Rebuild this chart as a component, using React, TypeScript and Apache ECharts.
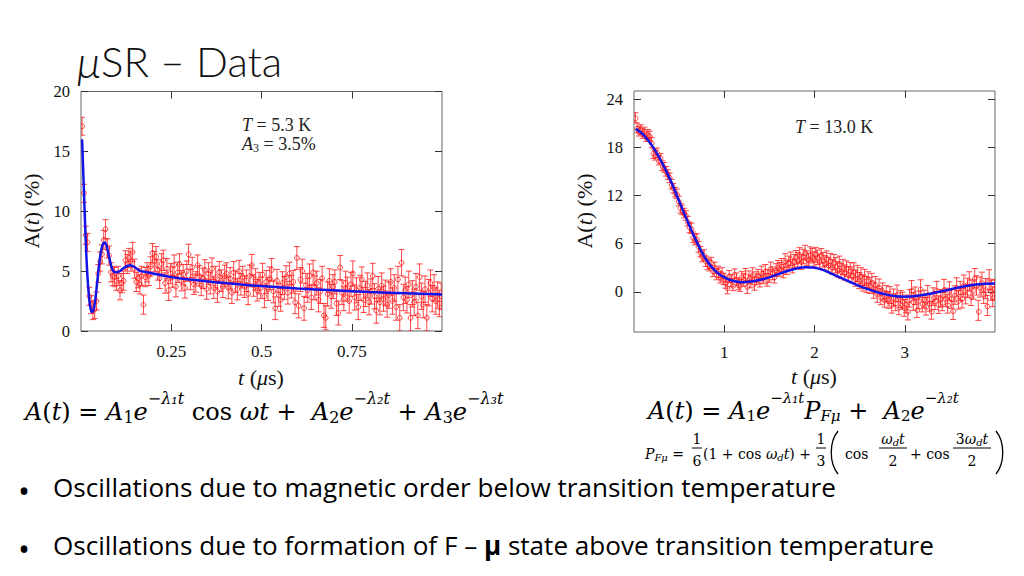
import React, { useEffect, useRef } from "react";
import * as echarts from "echarts";

// ---------------- Left panel data (T = 5.3 K) ----------------
const LEFT_T0 = 0.003;
const LEFT_DT = 0.005;
const leftY = [
  17.1, 11.5, 8.0, 7.4, 2.9, 2.2, 1.7, 1.8, 2.5, 4.8,
  5.8, 6.4, 7.6, 8.5, 6.9, 6.3, 4.9, 4.6, 4.5, 4.2,
  4.6, 3.4, 4.0, 4.2, 5.9, 5.6, 6.1, 5.8, 6.6, 5.2,
  4.1, 4.4, 3.9, 4.6, 2.2, 4.5, 4.9, 4.6, 5.4, 6.5,
  5.8, 6.2, 5.1, 4.4, 5.6, 5.9, 4.0, 5.2, 3.4, 4.8,
  4.5, 5.5, 3.7, 4.9, 5.6, 4.2, 4.7, 3.6, 5.0, 6.4,
  4.3, 5.3, 3.9, 4.1, 5.5, 4.6, 3.8, 4.4, 5.1, 3.5,
  4.8, 4.0, 5.2, 3.6, 4.5, 3.3, 4.9, 4.2, 3.7, 4.6,
  4.8, 3.6, 4.4, 3.2, 4.9, 4.1, 3.5, 5.0, 3.9, 4.5,
  3.7, 4.2, 3.1, 4.6, 5.5, 3.8, 4.3, 3.4, 4.0, 3.6,
  4.7, 2.9, 4.1, 3.5, 4.4, 5.1, 3.3, 1.9, 4.2, 3.0,
  2.6, 4.0, 3.6, 4.5, 3.2, 4.8, 3.7, 4.1, 2.4, 6.1,
  2.1, 4.3, 5.0, 1.9, 3.8, 3.4, 4.6, 2.8, 4.9, 3.6,
  4.0, 2.6, 3.3, 4.4, 1.3, 1.1, 3.1, 4.2, 2.9, 3.7,
  4.1, 2.3, 1.5, 5.3, 3.2, 2.7, 4.0, 3.5, 2.5, 3.9,
  4.8, 2.8, 3.4, 2.0, 3.6, 4.3, 2.6, 3.1, 3.8, 2.4,
  3.3, 4.6, 2.9, 1.7, 3.5, 2.4, 3.8, 2.7, 3.2, 2.2,
  3.0, 4.1, 2.5, 3.6, 2.0, 4.3, 1.1, 5.7, 2.8, 3.4,
  2.6, 3.9, 1.1, 3.1, 2.4, 3.7, 1.3, 4.5, 2.9, 2.2,
  3.5, 1.1, 3.2, 4.0, 2.7, 3.6, 2.5, 3.0, 2.3, 2.9,
];
// error bar half-length per block of 10 points
const leftErr = [0.75, 0.8, 0.8, 0.8, 0.85, 0.85, 0.85, 0.9, 0.9, 0.9, 0.95, 0.95, 1.0, 1.0, 1.0, 1.05, 1.05, 1.1, 1.1, 1.1];
const leftFitT = [0.003, 0.008, 0.013, 0.018, 0.023, 0.027, 0.031, 0.035, 0.04, 0.045, 0.05, 0.055, 0.06, 0.065, 0.07, 0.075, 0.08, 0.085, 0.09, 0.095, 0.1, 0.105, 0.11, 0.12, 0.13, 0.136, 0.145, 0.155, 0.165, 0.176, 0.2, 0.25, 0.3, 0.4, 0.5, 0.6, 0.7, 0.8, 0.9, 1.0];
const leftFitY = [16.0, 11.8, 7.6, 4.5, 2.6, 1.8, 1.6, 1.8, 2.7, 4.1, 5.5, 6.6, 7.2, 7.4, 7.2, 6.6, 5.9, 5.3, 5.0, 4.9, 4.9, 4.95, 5.05, 5.3, 5.45, 5.5, 5.4, 5.2, 5.0, 4.95, 4.8, 4.5, 4.3, 4.0, 3.75, 3.55, 3.4, 3.25, 3.15, 3.05];
const leftXTicks = [0.25, 0.5, 0.75];
const leftYTicks = [0, 5, 10, 15, 20];

// ---------------- Right panel data (T = 13.0 K) ----------------
const RIGHT_T0 = 0.015;
const RIGHT_DT = 0.02;
const rightY = [
  21.7, 20.4, 20.0, 20.2, 19.7, 19.9, 19.3, 19.6, 19.4, 18.6,
  17.2, 17.0, 17.3, 16.4, 16.6, 15.7, 15.5, 15.0, 14.6, 14.2,
  13.4, 12.9, 12.4, 12.2, 11.3, 10.4, 10.2, 9.8, 9.5, 8.8,
  8.0, 7.9, 6.8, 6.5, 6.6, 5.6, 5.0, 4.4, 4.6, 3.8,
  3.5, 3.3, 3.6, 2.6, 3.0, 2.2, 2.5, 1.8, 2.3, 1.6,
  1.2, 0.5, 1.9, 1.4, 0.9, 2.1, 1.6, 1.0, 0.8, 1.8,
  1.5, 2.1, 0.6, 1.8, 1.3, 2.2, 1.0, 1.7, 2.0, 1.4,
  2.4, 1.8, 2.6, 1.5, 2.0, 2.9, 2.3, 1.9, 2.7, 3.1,
  2.8, 3.3, 2.6, 3.9, 3.0, 3.6, 4.1, 3.2, 3.8, 4.3,
  4.0, 4.6, 3.7, 4.4, 4.9, 4.2, 3.9, 4.7, 4.5, 4.1,
  4.6, 4.3, 3.8, 4.5, 4.0, 3.6, 4.2, 3.4, 3.9, 3.1,
  3.7, 3.3, 2.8, 3.5, 2.6, 3.1, 2.4, 2.9, 2.2, 2.7,
  2.1, 2.6, 1.7, 2.3, 1.4, 2.0, 1.1, 1.8, 0.9, 1.5,
  0.8, 1.3, 0.2, 0.9, -0.3, 0.6, -0.6, 0.1, -0.9, -0.2,
  -1.0, -0.4, -1.6, -0.7, -1.3, -0.2, -1.8, -0.9, -1.1, -2.0,
  -1.5, -2.4, -0.8, 0.3, -1.2, -0.5, -2.1, -1.0, 0.4, -1.4,
  -0.9, -1.8, -0.3, -1.3, -2.3, -0.6, -1.1, 0.2, -1.6, -0.8,
  -1.2, 0.4, -0.7, -1.5, 0.1, -0.9, -2.3, -0.4, 0.6, -1.0,
  0.1, -0.8, 0.9, -0.3, 0.5, 1.3, -0.5, 0.3, 1.7, 0.8,
  -2.3, 0.6, 1.2, -0.2, 0.4, -1.7, 1.5, 0.2, -0.6, 0.3,
];
const rightErr = [0.6, 0.6, 0.6, 0.65, 0.7, 0.75, 0.8, 0.8, 0.85, 0.9, 0.9, 0.95, 1.0, 1.0, 1.05, 1.1, 1.1, 1.15, 1.2, 1.25];
const rightFitT = [0.02, 0.1, 0.2, 0.3, 0.4, 0.5, 0.6, 0.7, 0.8, 0.9, 1.0, 1.1, 1.2, 1.3, 1.4, 1.5, 1.6, 1.7, 1.8, 1.9, 2.0, 2.1, 2.2, 2.3, 2.4, 2.5, 2.6, 2.7, 2.8, 2.9, 3.0, 3.1, 3.2, 3.3, 3.4, 3.5, 3.6, 3.7, 3.8, 3.9, 4.0];
const rightFitY = [20.3, 19.6, 18.2, 16.3, 14.0, 11.3, 8.6, 6.1, 4.0, 2.6, 1.8, 1.35, 1.2, 1.3, 1.5, 1.8, 2.2, 2.6, 2.9, 3.05, 3.0, 2.7, 2.2, 1.7, 1.2, 0.7, 0.3, -0.05, -0.35, -0.55, -0.6, -0.55, -0.4, -0.2, 0.05, 0.3, 0.55, 0.75, 0.9, 1.0, 1.05];
const rightXTicks = [1, 2, 3];
const rightYTicks = [0, 6, 12, 18, 24];

const SERIF = "'Liberation Serif', 'Times New Roman', serif";
const MATH = "'DejaVu Serif', 'Liberation Serif', serif";
const SANS = "Lato, 'Open Sans', sans-serif";
const BODY = "'Open Sans', 'Noto Sans', sans-serif";
const PT_COLOR = "rgba(255,25,25,0.8)";
const FIT_COLOR = "#1414e6";

function errRender(params: any, api: any) {
  const x = api.value(0);
  const y = api.value(1);
  const e = api.value(2);
  const p = api.coord([x, y]);
  const hi = api.coord([x, y + e]);
  const lo = api.coord([x, y - e]);
  const w = 3;
  const st = { stroke: PT_COLOR, lineWidth: 1, fill: "none" };
  return {
    type: "group",
    children: [
      { type: "line", shape: { x1: p[0], y1: hi[1], x2: p[0], y2: lo[1] }, style: st },
      { type: "line", shape: { x1: p[0] - w, y1: hi[1], x2: p[0] + w, y2: hi[1] }, style: st },
      { type: "line", shape: { x1: p[0] - w, y1: lo[1], x2: p[0] + w, y2: lo[1] }, style: st },
      { type: "circle", shape: { cx: p[0], cy: p[1], r: 2.4 }, style: st },
    ],
  };
}

function xAxes(gridIndex: number, min: number, max: number, ticks: number[]) {
  const base = {
    type: "value",
    gridIndex,
    min,
    max,
    axisLine: { show: false, onZero: false },
    splitLine: { show: false },
    axisTick: { show: true, inside: true, length: 7, customValues: ticks, lineStyle: { color: "#333", width: 1 } },
  };
  return [
    {
      ...base,
      position: "bottom",
      axisLabel: { show: true, customValues: ticks, margin: 12, color: "#111", fontFamily: SERIF, fontSize: 17, formatter: (v: number) => String(v) },
    },
    { ...base, position: "top", axisLabel: { show: false } },
  ];
}

function yAxes(gridIndex: number, min: number, max: number, ticks: number[]) {
  const base = {
    type: "value",
    gridIndex,
    min,
    max,
    axisLine: { show: false, onZero: false },
    splitLine: { show: false },
    axisTick: { show: true, inside: true, length: 7, customValues: ticks, lineStyle: { color: "#333", width: 1 } },
  };
  return [
    {
      ...base,
      position: "left",
      axisLabel: { show: true, customValues: ticks, margin: 11, color: "#111", fontFamily: SERIF, fontSize: 16.5, formatter: (v: number) => String(v) },
    },
    { ...base, position: "right", axisLabel: { show: false } },
  ];
}

// rich styles for formulas: sub/superscripts are shifted with padding around a centred token
const mathRich = (size: number, subSize: number, subShift: number, supShift: number) => ({
  n: { fontFamily: MATH, fontSize: size, fill: "#000", verticalAlign: "middle" },
  i: { fontFamily: MATH, fontSize: size, fontStyle: "italic", fill: "#000", verticalAlign: "middle" },
  sb: { fontFamily: MATH, fontSize: subSize, fill: "#000", verticalAlign: "middle", padding: [subShift * 2, 0, 0, 0] },
  sbi: { fontFamily: MATH, fontSize: subSize, fontStyle: "italic", fill: "#000", verticalAlign: "middle", padding: [subShift * 2, 0, 0, 0] },
  sp: { fontFamily: MATH, fontSize: subSize, fontStyle: "italic", fill: "#000", verticalAlign: "middle", padding: [0, 0, supShift * 2, 0] },
});

function mathText(x: number, y: number, text: string, size: number, subSize: number, subShift: number, supShift: number, align = "left") {
  return {
    type: "text",
    x,
    y,
    style: { text, rich: mathRich(size, subSize, subShift, supShift), align, verticalAlign: "middle" },
  };
}

function fraction(cx: number, num: string, den: string, halfW: number) {
  return [
    mathText(cx, 439, num, 14, 10, 3, 7, "center"),
    { type: "line", shape: { x1: cx - halfW, y1: 448, x2: cx + halfW, y2: 448 }, style: { stroke: "#000", lineWidth: 1 } },
    mathText(cx, 461, den, 14, 10, 3, 7, "center"),
  ];
}

function paren(x: number, dir: number) {
  // dir = +1 for "(", -1 for ")"
  return {
    type: "bezierCurve",
    shape: { x1: x, y1: 431, x2: x, y2: 474, cpx1: x - dir * 9, cpy1: 442, cpx2: x - dir * 9, cpy2: 463 },
    style: { stroke: "#000", lineWidth: 1.3, fill: "none" },
  };
}

function buildOption() {
  const leftData = leftY.map((y, i) => [LEFT_T0 + i * LEFT_DT, y, leftErr[Math.floor(i / 10)]]);
  const rightData = rightY.map((y, i) => [RIGHT_T0 + i * RIGHT_DT, y, rightErr[Math.floor(i / 10)]]);
  const axisNameStyle = (x: number, y: number, rotate: boolean, text: string) => ({
    type: "text",
    x,
    y,
    rotation: rotate ? Math.PI / 2 : 0,
    style: {
      text,
      align: "center",
      verticalAlign: "middle",
      rich: {
        n: { fontFamily: SERIF, fontSize: 22, fill: "#111" },
        i: { fontFamily: SERIF, fontSize: 22, fontStyle: "italic", fill: "#111" },
      },
    },
  });
  const annot = (x: number, y: number, text: string) => ({
    type: "text",
    x,
    y,
    style: {
      text,
      align: "left",
      verticalAlign: "middle",
      rich: {
        n: { fontFamily: SERIF, fontSize: 18, fill: "#222", verticalAlign: "middle" },
        i: { fontFamily: SERIF, fontSize: 18, fontStyle: "italic", fill: "#222", verticalAlign: "middle" },
        s: { fontFamily: SERIF, fontSize: 12, fill: "#222", verticalAlign: "middle", padding: [8, 0, 0, 0] },
      },
    },
  });

  return {
    animation: false,
    backgroundColor: "#ffffff",
    grid: [
      { left: 81, top: 91.5, width: 361, height: 239.5, show: true, borderColor: "#666", borderWidth: 1, backgroundColor: "transparent" },
      { left: 634, top: 91, width: 361, height: 241, show: true, borderColor: "#666", borderWidth: 1, backgroundColor: "transparent" },
    ],
    xAxis: [...xAxes(0, 0, 1, leftXTicks), ...xAxes(1, 0, 4, rightXTicks)],
    yAxis: [...yAxes(0, 0, 20, leftYTicks), ...yAxes(1, -5, 25, rightYTicks)],
    series: [
      { type: "custom", xAxisIndex: 0, yAxisIndex: 0, clip: true, data: leftData, renderItem: errRender, encode: { x: 0, y: 1 }, z: 2, silent: true },
      { type: "line", xAxisIndex: 0, yAxisIndex: 0, data: leftFitT.map((t, i) => [t, leftFitY[i]]), showSymbol: false, symbol: "none", smooth: 0.3, lineStyle: { color: FIT_COLOR, width: 2.5 }, z: 3, silent: true },
      { type: "custom", xAxisIndex: 2, yAxisIndex: 2, clip: true, data: rightData, renderItem: errRender, encode: { x: 0, y: 1 }, z: 2, silent: true },
      { type: "line", xAxisIndex: 2, yAxisIndex: 2, data: rightFitT.map((t, i) => [t, rightFitY[i]]), showSymbol: false, symbol: "none", smooth: 0.3, lineStyle: { color: FIT_COLOR, width: 2.5 }, z: 3, silent: true },
    ],
    graphic: [
      // title
      {
        type: "text",
        x: 77,
        y: 61,
        style: {
          text: "{m|μ}{t|SR – Data}",
          verticalAlign: "middle",
          rich: {
            m: { fontFamily: SANS, fontStyle: "italic", fontWeight: 300, fontSize: 44, fill: "#111" },
            t: { fontFamily: SANS, fontWeight: 300, fontSize: 42, fill: "#111" },
          },
        },
      },
      // axis names
      axisNameStyle(31, 211, true, "{n|A(}{i|t}{n|) (%)}"),
      axisNameStyle(261, 377, false, "{i|t}{n| (}{i|μ}{n|s)}"),
      axisNameStyle(584, 211, true, "{n|A(}{i|t}{n|) (%)}"),
      axisNameStyle(814, 376, false, "{i|t}{n| (}{i|μ}{n|s)}"),
      // annotations
      annot(242, 125, "{i|T}{n| = 5.3 K}"),
      annot(242, 144, "{i|A}{s|3}{n| = 3.5%}"),
      annot(795, 127, "{i|T}{n| = 13.0 K}"),
      // left formula
      mathText(25, 412, "{i|A}{n|(}{i|t}{n|) = }{i|A}{sb|1}{i|e}{sp|−λ₁t}{n| cos }{i|ωt}{n| +  }{i|A}{sb|2}{i|e}{sp|−λ₂t}{n| + }{i|A}{sb|3}{i|e}{sp|−λ₃t}", 24, 16, 5, 14),
      // right formula
      mathText(648, 411, "{i|A}{n|(}{i|t}{n|) = }{i|A}{sb|1}{i|e}{sp|−λ₁t}{i|P}{sbi|Fμ}{n| +  }{i|A}{sb|2}{i|e}{sp|−λ₂t}", 24, 15, 5, 13),
      mathText(645, 454, "{i|P}{sbi|Fμ}{n| =}", 14, 10, 3, 7),
      ...fraction(697, "{n|1}", "{n|6}", 5),
      mathText(703, 454, "{n|(1 + cos }{i|ω}{sbi|d}{i|t}{n|) +}", 14, 10, 3, 7),
      ...fraction(821, "{n|1}", "{n|3}", 5),
      paren(838, 1),
      mathText(845, 454, "{n|cos}", 14, 10, 3, 7),
      ...fraction(893, "{i|ω}{sbi|d}{i|t}", "{n|2}", 14),
      mathText(910, 454, "{n|+ cos}", 14, 10, 3, 7),
      ...fraction(972, "{n|3}{i|ω}{sbi|d}{i|t}", "{n|2}", 19),
      paren(996, -1),
      // bullets
      { type: "text", x: 18, y: 490, style: { text: "•", fontFamily: BODY, fontSize: 32, fill: "#000", verticalAlign: "middle" } },
      { type: "text", x: 53, y: 487, style: { text: "Oscillations due to magnetic order below transition temperature", fontFamily: BODY, fontSize: 26.1, fill: "#000", verticalAlign: "middle" } },
      { type: "text", x: 18, y: 548, style: { text: "•", fontFamily: BODY, fontSize: 32, fill: "#000", verticalAlign: "middle" } },
      {
        type: "text",
        x: 53,
        y: 545,
        style: {
          text: "{a|Oscillations due to formation of F – }{b|μ}{a| state above transition temperature}",
          verticalAlign: "middle",
          rich: {
            a: { fontFamily: BODY, fontSize: 26.1, fill: "#000" },
            b: { fontFamily: BODY, fontSize: 26, fontWeight: "bold", fill: "#000" },
          },
        },
      },
    ],
  };
}

export default function App() {
  const ref = useRef<HTMLDivElement>(null);
  useEffect(() => {
    if (!ref.current) return;
    const chart = echarts.init(ref.current, null, { renderer: "svg" });
    chart.setOption(buildOption() as any);
    return () => chart.dispose();
  }, []);
  return (
    <div
      ref={ref}
      style={{ position: "fixed", left: 0, top: 0, width: 1024, height: 576, background: "#fff" }}
    />
  );
}
